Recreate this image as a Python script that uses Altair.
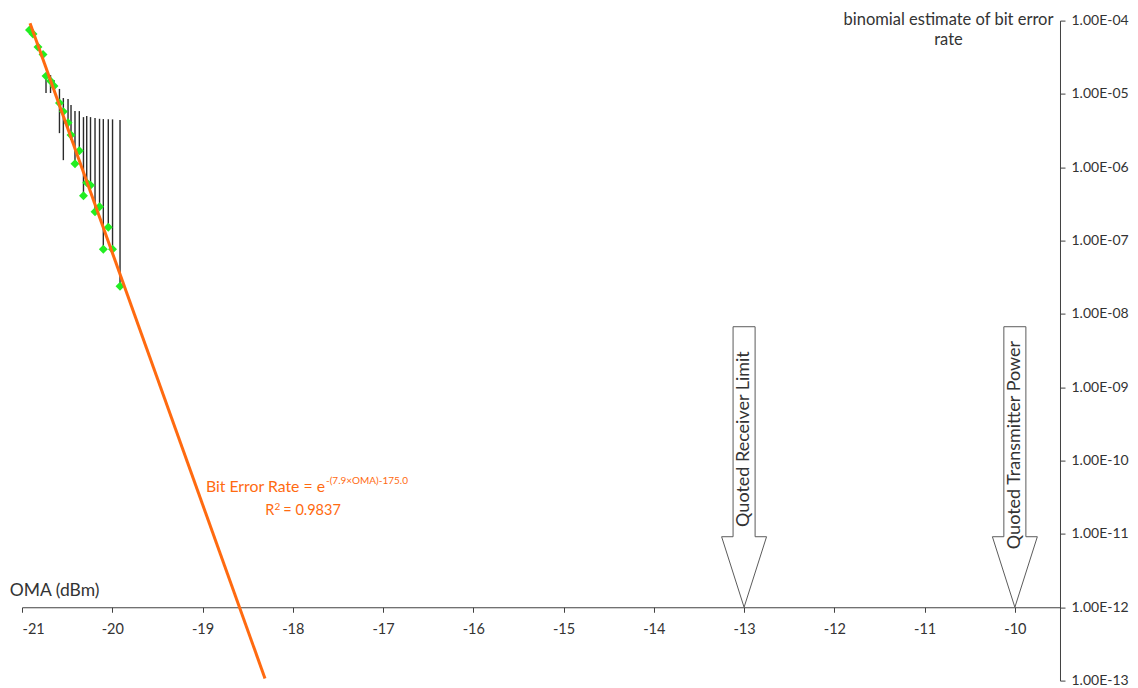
import altair as alt
import pandas as pd

# ---- data ----
oma = [-20.917, -20.878, -20.823, -20.767, -20.734, -20.684, -20.646, -20.585,
       -20.542, -20.490, -20.457, -20.413, -20.365, -20.319, -20.283, -20.241,
       -20.191, -20.141, -20.099, -20.044, -19.997, -19.914]
ber = [7.44e-5, 6.56e-5, 4.36e-5, 3.44e-5, 1.75e-5, 1.50e-5, 1.28e-5, 7.50e-6,
       5.74e-6, 4.06e-6, 2.75e-6, 1.12e-6, 1.68e-6, 4.10e-7, 6.17e-7, 5.70e-7,
       2.47e-7, 2.90e-7, 7.64e-8, 1.52e-7, 7.64e-8, 2.39e-8]

bar_oma = oma[4:]
bar_hi = [1.87e-5, 1.81e-5, 1.55e-5, 1.17e-5, 8.79e-6, 8.51e-6, 7.05e-6, 5.83e-6,
          5.83e-6, 4.83e-6, 4.99e-6, 4.83e-6, 4.69e-6, 4.58e-6, 4.54e-6, 4.50e-6,
          4.50e-6, 4.40e-6]
bar_lo = [1.03e-5, 1.03e-5, 1.06e-5, 2.92e-6, 1.25e-6, 3.21e-6, 2.35e-6, 1.12e-6,
          1.66e-6, 4.10e-7, 6.17e-7, 5.70e-7, 2.47e-7, 2.90e-7, 7.64e-8, 1.52e-7,
          7.64e-8, 2.39e-8]

fit_oma = [-20.911, -18.308]
fit_ber = [9.19e-5, 1.07e-13]

x_ticks = [-21, -20, -19, -18, -17, -16, -15, -14, -13, -12, -11, -10]
y_ticks = [1e-4, 1e-5, 1e-6, 1e-7, 1e-8, 1e-9, 1e-10, 1e-11, 1e-12, 1e-13]

arrow_pos = [-13, -10]
arrow_labels = ["Quoted Receiver Limit", "Quoted Transmitter Power"]
arrow_label_y = [1.968e-10, 1.63e-10]
arrow_dx = [-0.122, 0.122, 0.122, 0.249, 0.0, -0.249, -0.122, -0.122]
arrow_y = [6.69e-9, 6.69e-9, 9.16e-12, 9.16e-12, 1e-12, 9.16e-12, 9.16e-12, 6.69e-9]

ann_right_text = ["Bit Error Rate = e", "R"]
ann_right_x = [-17.6434, -18.2051]
ann_right_y = [3.763e-11, 1.826e-11]
ann_right_size = [15.8, 14.5]
ann_left_text = ["-(7.9×OMA)-175.0", "2", "= 0.9837"]
ann_left_x = [-17.6323, -18.2029, -18.1054]
ann_left_y = [4.80e-11, 2.136e-11, 1.826e-11]
ann_left_size = [10, 10, 14.5]

# ---- tables ----
pts = pd.DataFrame({"oma": oma, "ber": ber})
bars = pd.DataFrame({"oma": bar_oma, "hi": bar_hi, "lo": bar_lo})
fit = pd.DataFrame({"oma": fit_oma, "ber": fit_ber})
arrows = pd.DataFrame([
    {"arrow": i, "order": j, "oma": p + dx, "ber": yy}
    for i, p in enumerate(arrow_pos)
    for j, (dx, yy) in enumerate(zip(arrow_dx, arrow_y))
])
arrow_txt = pd.DataFrame({"oma": arrow_pos, "ber": arrow_label_y, "t": arrow_labels})
ann_r = pd.DataFrame({"oma": ann_right_x, "ber": ann_right_y, "t": ann_right_text,
                      "fs": ann_right_size})
ann_l = pd.DataFrame({"oma": ann_left_x, "ber": ann_left_y, "t": ann_left_text,
                      "fs": ann_left_size})

FONT = "Lato"
TXT = "#333333"
AX = "#404040"
ORANGE = "#ff6a10"

xs = alt.Scale(domain=[-21, -9.5], nice=False, zero=False)
ys = alt.Scale(type="log", domain=[1e-13, 1e-4], nice=False)

xaxis = alt.Axis(
    values=x_ticks, offset=-73.33, tickSize=5, labelPadding=10,
    labelExpr="datum.value + ''", labelFont=FONT, labelFontSize=14.5,
    labelColor=TXT, domainColor=AX, tickColor=AX, grid=False,
    title="OMA (dBm)", titleFont=FONT, titleFontSize=17.5, titleFontWeight="normal",
    titleColor=TXT, titleAnchor="start", titleAlign="left", titleBaseline="middle",
    titleX=-12.7, titleY=-17,
)
yaxis = alt.Axis(
    orient="right", values=y_ticks, tickSize=5, labelPadding=6,
    labelExpr="'1.00E-' + (abs(round(log(datum.value)/LN10)) < 10 ? '0' : '') + abs(round(log(datum.value)/LN10))",
    labelFont=FONT, labelFontSize=14, labelColor=TXT, domainColor=AX,
    tickColor=AX, grid=False,
    title=["binomial estimate of bit error", "rate"], titleFont=FONT,
    titleFontSize=16.5, titleFontWeight="normal", titleColor=TXT, titleAngle=0,
    titleAlign="center", titleBaseline="alphabetic", titleX=-112, titleY=4.4,
    titleLineHeight=20,
)

X = alt.X("oma:Q", scale=xs, axis=xaxis)
Y = alt.Y("ber:Q", scale=ys, axis=yaxis)

bar_layer = alt.Chart(bars).mark_rule(color="#2b2b2b", strokeWidth=1.4).encode(
    x=X, y=alt.Y("hi:Q", scale=ys, axis=yaxis), y2="lo:Q"
)
pt_layer = alt.Chart(pts).mark_point(
    shape="diamond", filled=True, color="#22ee22", size=80, opacity=1
).encode(x=X, y=Y)
fit_layer = alt.Chart(fit).mark_line(color=ORANGE, strokeWidth=3, clip=True).encode(
    x=X, y=Y
)
arrow_layer = alt.Chart(arrows).mark_line(color="#5a5a5a", strokeWidth=1).encode(
    x=X, y=Y, detail="arrow:N", order="order:Q"
)
arrow_text_layer = alt.Chart(arrow_txt).mark_text(
    angle=270, align="center", baseline="middle", font=FONT, fontSize=18, color=TXT
).encode(x=X, y=Y, text="t:N")
ann_r_layer = alt.Chart(ann_r).mark_text(
    align="right", baseline="alphabetic", font=FONT, color=ORANGE
).encode(x=X, y=Y, text="t:N", size=alt.Size("fs:Q", scale=None, legend=None))
ann_l_layer = alt.Chart(ann_l).mark_text(
    align="left", baseline="alphabetic", font=FONT, color=ORANGE
).encode(x=X, y=Y, text="t:N", size=alt.Size("fs:Q", scale=None, legend=None))

chart = alt.layer(
    bar_layer, pt_layer, fit_layer, arrow_layer, arrow_text_layer, ann_r_layer, ann_l_layer
).properties(
    width=1038, height=660,
    autosize=alt.AutoSizeParams(type="none"),
    padding={"left": 14, "top": 12.6, "right": 70, "bottom": 12},
    background="white",
).configure_view(strokeWidth=0)

chart.save("out.html", embed_options={"renderer": "svg", "actions": False})
